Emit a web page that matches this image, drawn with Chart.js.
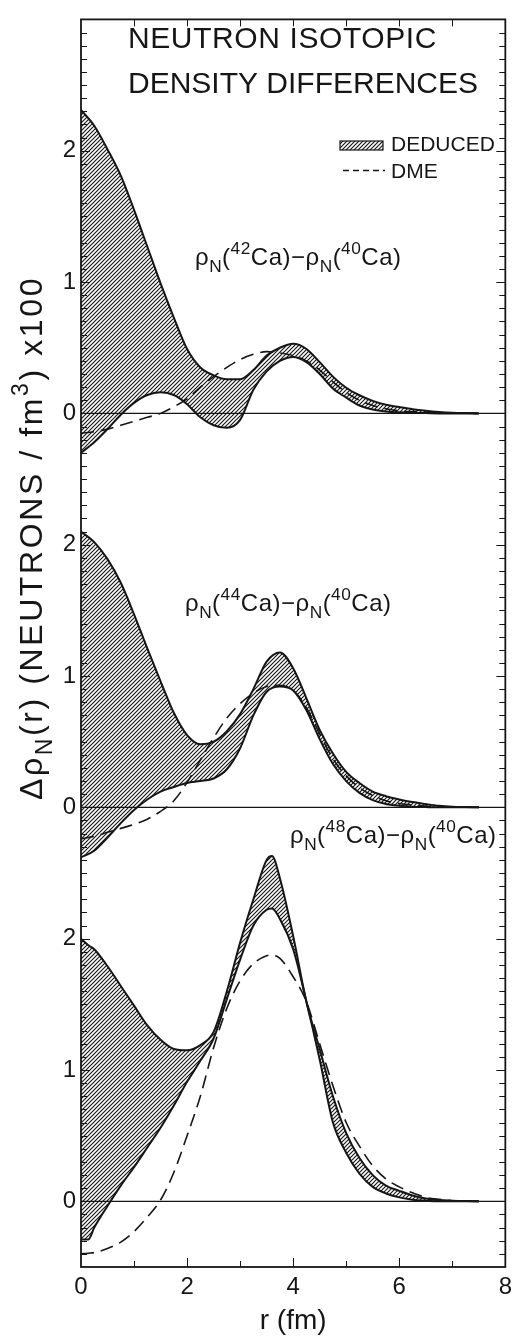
<!DOCTYPE html>
<html>
<head>
<meta charset="utf-8">
<script src="https://cdn.jsdelivr.net/npm/chart.js@4.4.1/dist/chart.umd.min.js"></script>
<style>
  html, body { margin: 0; padding: 0; background: #fff; }
  #wrap { width: 518px; height: 1340px; }
</style>
</head>
<body>
<div id="wrap"><canvas id="c" width="518" height="1340"></canvas></div>
<script>
// Radius grid (fm) for the 42Ca and 44Ca curves
const rA = [0, 0.25, 0.5, 0.75, 1.0, 1.25, 1.5, 1.75, 2.0, 2.25, 2.5, 2.75, 3.0, 3.25, 3.5, 3.75,
            4.0, 4.25, 4.5, 4.75, 5.0, 5.25, 5.5, 5.75, 6.0, 6.25, 6.5, 6.75, 7.0, 7.25, 7.5];
// Radius grid (fm) for the 48Ca curves
const rB = [0, 0.14, 0.25, 0.5, 0.75, 1.0, 1.25, 1.5, 1.75, 2.0, 2.25, 2.5, 2.75, 3.0, 3.25, 3.5, 3.6, 3.75,
            4.0, 4.25, 4.5, 4.75, 5.0, 5.25, 5.5, 5.75, 6.0, 6.25, 6.5, 6.75, 7.0, 7.25, 7.5];

// rho_N(42Ca) - rho_N(40Ca), neutrons/fm^3 x100
const ca42Upper = [2.31, 2.19, 2.01, 1.81, 1.55, 1.27, 0.99, 0.73, 0.49, 0.35, 0.29, 0.26, 0.26, 0.33, 0.44, 0.50,
                   0.53, 0.49, 0.39, 0.28, 0.195, 0.138, 0.095, 0.065, 0.048, 0.032, 0.02, 0.011, 0.005, 0.002, 0];
const ca42Lower = [-0.30, -0.22, -0.12, -0.01, 0.08, 0.14, 0.16, 0.14, 0.07, -0.03, -0.09, -0.11, -0.05, 0.18, 0.32, 0.40,
                   0.43, 0.39, 0.30, 0.19, 0.12, 0.06, 0.03, 0.015, 0.008, 0.004, 0.002, 0, 0, 0, 0];
const ca42Dme   = [-0.15, -0.14, -0.12, -0.09, -0.06, -0.03, 0.0, 0.05, 0.11, 0.20, 0.28, 0.35, 0.41, 0.45, 0.47, 0.46,
                   0.44, 0.40, 0.33, 0.24, 0.16, 0.10, 0.06, 0.035, 0.02, 0.013, 0.008, 0.004, 0.002, 0.001, 0];

// rho_N(44Ca) - rho_N(40Ca)
const ca44Upper = [2.10, 2.02, 1.89, 1.71, 1.47, 1.21, 0.96, 0.72, 0.55, 0.48, 0.50, 0.58, 0.71, 0.90, 1.11, 1.18,
                   1.06, 0.83, 0.59, 0.41, 0.27, 0.185, 0.12, 0.085, 0.06, 0.04, 0.025, 0.012, 0.005, 0.002, 0];
const ca44Lower = [-0.38, -0.33, -0.23, -0.12, -0.02, 0.06, 0.12, 0.155, 0.185, 0.20, 0.22, 0.29, 0.45, 0.70, 0.88, 0.92,
                   0.89, 0.74, 0.52, 0.33, 0.20, 0.11, 0.055, 0.025, 0.012, 0.005, 0.002, 0, 0, 0, 0];
const ca44Dme   = [-0.24, -0.22, -0.19, -0.16, -0.13, -0.09, -0.03, 0.05, 0.19, 0.36, 0.53, 0.68, 0.79, 0.87, 0.92, 0.93,
                   0.89, 0.76, 0.56, 0.37, 0.24, 0.15, 0.09, 0.05, 0.03, 0.018, 0.01, 0.006, 0.003, 0.001, 0];

// rho_N(48Ca) - rho_N(40Ca)
const ca48Upper = [2.00, 1.95, 1.92, 1.79, 1.64, 1.49, 1.34, 1.23, 1.16, 1.15, 1.19, 1.29, 1.60, 1.97, 2.30, 2.60, 2.63,
                   2.46, 2.02, 1.52, 1.16, 0.80, 0.52, 0.33, 0.20, 0.12, 0.08, 0.045, 0.022, 0.01, 0.005, 0.002, 0];
const ca48Lower = [-0.29, -0.29, -0.20, -0.035, 0.12, 0.26, 0.41, 0.56, 0.73, 0.91, 1.07, 1.24, 1.54, 1.84, 2.10, 2.22, 2.23,
                   2.15, 1.92, 1.52, 1.08, 0.60, 0.37, 0.21, 0.11, 0.06, 0.03, 0.012, 0.005, 0, 0, 0, 0];
const ca48Dme   = [-0.40, -0.395, -0.39, -0.36, -0.31, -0.23, -0.12, 0.01, 0.22, 0.50, 0.80, 1.17, 1.47, 1.68, 1.81, 1.87, 1.875,
                   1.85, 1.71, 1.52, 1.20, 0.88, 0.60, 0.42, 0.27, 0.17, 0.11, 0.065, 0.03, 0.015, 0.005, 0.002, 0];

// Isotope mass numbers for each stacked panel, top to bottom, and the reference isotope
const isotopes = ['42', '44', '48'];
const referenceIsotope = '40';

// Tick labels
const xTickLabels = ['0', '2', '4', '6', '8'];
const yTickLabels = ['0', '1', '2'];

// Text
const titleLines = ['NEUTRON ISOTOPIC', 'DENSITY DIFFERENCES'];
const legendLabels = ['DEDUCED', 'DME'];
const xTitle = 'r (fm)';

// ---------------------------------------------------------------------------
const FONT = '"Liberation Sans", Arial, sans-serif';
const INK = '#161616';
const PANEL_SHIFT = [6, 3, 0];   // each panel sits 3 data units above the next

const panels = [
  { r: rA, up: ca42Upper, lo: ca42Lower, dme: ca42Dme },
  { r: rA, up: ca44Upper, lo: ca44Lower, dme: ca44Dme },
  { r: rB, up: ca48Upper, lo: ca48Lower, dme: ca48Dme }
];

// diagonal hatching used for the deduced bands
function makeHatch() {
  const s = 4;
  const c = document.createElement('canvas');
  c.width = s; c.height = s;
  const g = c.getContext('2d');
  g.strokeStyle = INK;
  g.lineWidth = 1.15;
  g.beginPath();
  g.moveTo(-1, s + 1); g.lineTo(s + 1, -1);
  g.moveTo(-1, 1); g.lineTo(1, -1);
  g.moveTo(s - 1, s + 1); g.lineTo(s + 1, s - 1);
  g.stroke();
  return g.createPattern(c, 'repeat');
}
const hatch = makeHatch();

const datasets = [];
panels.forEach((p, i) => {
  const off = PANEL_SHIFT[i];
  const pts = arr => p.r.map((x, k) => ({ x, y: arr[k] + off }));
  datasets.push({
    label: 'deduced-upper-' + i, data: pts(p.up),
    borderColor: INK, borderWidth: 2, backgroundColor: hatch, fill: '+1',
    pointRadius: 0, cubicInterpolationMode: 'monotone'
  });
  datasets.push({
    label: 'deduced-lower-' + i, data: pts(p.lo),
    borderColor: INK, borderWidth: 2, fill: false,
    pointRadius: 0, cubicInterpolationMode: 'monotone'
  });
  datasets.push({
    label: 'dme-' + i, data: pts(p.dme),
    borderColor: INK, borderWidth: 1.6, borderDash: [13, 7], fill: false,
    pointRadius: 0, cubicInterpolationMode: 'monotone'
  });
  datasets.push({
    label: 'zero-' + i, data: [{ x: 0, y: off }, { x: 8, y: off }],
    borderColor: INK, borderWidth: 1.3, fill: false, pointRadius: 0
  });
});

// text with subscripts and superscripts: parts = [[text, kind]], kind 0 normal, 1 sub, 2 sup
function richWidth(ctx, parts, size, spacing) {
  let w = 0;
  ctx.letterSpacing = spacing + 'px';
  for (const [t, k] of parts) {
    ctx.font = `${k ? size * 0.72 : size}px ${FONT}`;
    w += ctx.measureText(t).width;
  }
  return w;
}
function richText(ctx, parts, x, y, size, spacing) {
  let cx = x;
  ctx.letterSpacing = spacing + 'px';
  for (const [t, k] of parts) {
    ctx.font = `${k ? size * 0.72 : size}px ${FONT}`;
    const dy = k === 1 ? size * 0.3 : (k === 2 ? -size * 0.45 : 0);
    ctx.fillText(t, cx, y + dy);
    cx += ctx.measureText(t).width;
  }
  ctx.letterSpacing = '0px';
}

const decorPlugin = {
  id: 'decor',
  afterDraw(chart) {
    const { ctx, chartArea: a, scales: { x, y } } = chart;
    ctx.save();
    ctx.strokeStyle = INK;
    ctx.fillStyle = INK;

    // frame
    ctx.lineWidth = 1.8;
    ctx.strokeRect(a.left, a.top, a.right - a.left, a.bottom - a.top);

    // inner ticks on both vertical edges, every 0.1
    ctx.lineWidth = 1;
    ctx.beginPath();
    for (let k = -4; k < 90; k++) {
      const py = Math.round(y.getPixelForValue(k / 10)) + 0.5;
      const len = k % 10 === 0 ? 9 : 6;
      ctx.moveTo(a.left, py); ctx.lineTo(a.left + len, py);
      ctx.moveTo(a.right, py); ctx.lineTo(a.right - len, py);
    }
    // ticks on top and bottom edges, every 1 fm
    for (let k = 1; k < 8; k++) {
      const px = Math.round(x.getPixelForValue(k)) + 0.5;
      ctx.moveTo(px, a.bottom); ctx.lineTo(px, a.bottom - (k % 2 ? 6 : 9));
      ctx.moveTo(px, a.top); ctx.lineTo(px, a.top + 7);
    }
    ctx.stroke();

    // title
    ctx.textBaseline = 'alphabetic';
    ctx.textAlign = 'left';
    ctx.font = `30px ${FONT}`;
    ctx.letterSpacing = '0.6px';
    ctx.fillText(titleLines[0], 128, 48);
    ctx.letterSpacing = '0px';
    ctx.fillText(titleLines[1], 128, 93);

    // legend
    ctx.fillStyle = hatch;
    ctx.fillRect(340, 141, 43, 9);
    ctx.lineWidth = 1.2;
    ctx.strokeRect(340, 141, 43, 9);
    ctx.fillStyle = INK;
    ctx.font = `21px ${FONT}`;
    ctx.fillText(legendLabels[0], 391, 151);
    ctx.fillText(legendLabels[1], 391, 178);
    ctx.setLineDash([6, 4]);
    ctx.lineWidth = 1.4;
    ctx.beginPath(); ctx.moveTo(343, 170.5); ctx.lineTo(385, 170.5); ctx.stroke();
    ctx.setLineDash([]);

    // panel labels
    const labelPos = [[195, 265], [185, 611], [290, 843]];
    isotopes.forEach((m, i) => {
      const parts = [['\u03C1', 0], ['N', 1], ['(', 0], [m, 2], ['Ca)', 0], ['\u2212', 0],
                     ['\u03C1', 0], ['N', 1], ['(', 0], [referenceIsotope, 2], ['Ca)', 0]];
      richText(ctx, parts, labelPos[i][0], labelPos[i][1], 24, 0.5);
    });

    // vertical axis title
    const yParts = [['\u0394\u03C1', 0], ['N', 1], ['(r) (NEUTRONS / fm', 0], ['3', 2], [') x100', 0]];
    const size = 32, spacing = 2.6;
    const w = richWidth(ctx, yParts, size, spacing);
    ctx.translate(42, 538);
    ctx.rotate(-Math.PI / 2);
    richText(ctx, yParts, -w / 2, 0, size, spacing);
    ctx.restore();
  }
};

new Chart(document.getElementById('c'), {
  type: 'line',
  data: { datasets },
  options: {
    responsive: false,
    animation: false,
    devicePixelRatio: 1,
    layout: { padding: { top: 8, right: 5, left: 0, bottom: 0 } },
    plugins: { legend: { display: false }, tooltip: { enabled: false } },
    scales: {
      x: {
        type: 'linear', min: 0, max: 8,
        grid: { display: false, drawTicks: false },
        border: { display: false },
        ticks: {
          stepSize: 2, padding: 6, color: INK, autoSkip: false,
          font: { family: FONT, size: 24 },
          callback: v => xTickLabels[v / 2] ?? ''
        },
        title: { display: true, text: xTitle, color: INK, font: { family: FONT, size: 28 }, padding: { top: 0, bottom: 2 } },
        afterFit: s => { s.height = 73; }
      },
      y: {
        type: 'linear', min: -0.5, max: 9,
        grid: { display: false, drawTicks: false },
        border: { display: false },
        ticks: {
          stepSize: 1, padding: 5, color: INK, autoSkip: false,
          font: { family: FONT, size: 24 },
          callback: v => (Number.isInteger(v) && v >= 0 && v < 9) ? yTickLabels[v % 3] : ''
        },
        afterFit: s => { s.width = 81; }
      }
    }
  },
  plugins: [decorPlugin]
});
</script>
</body>
</html>
